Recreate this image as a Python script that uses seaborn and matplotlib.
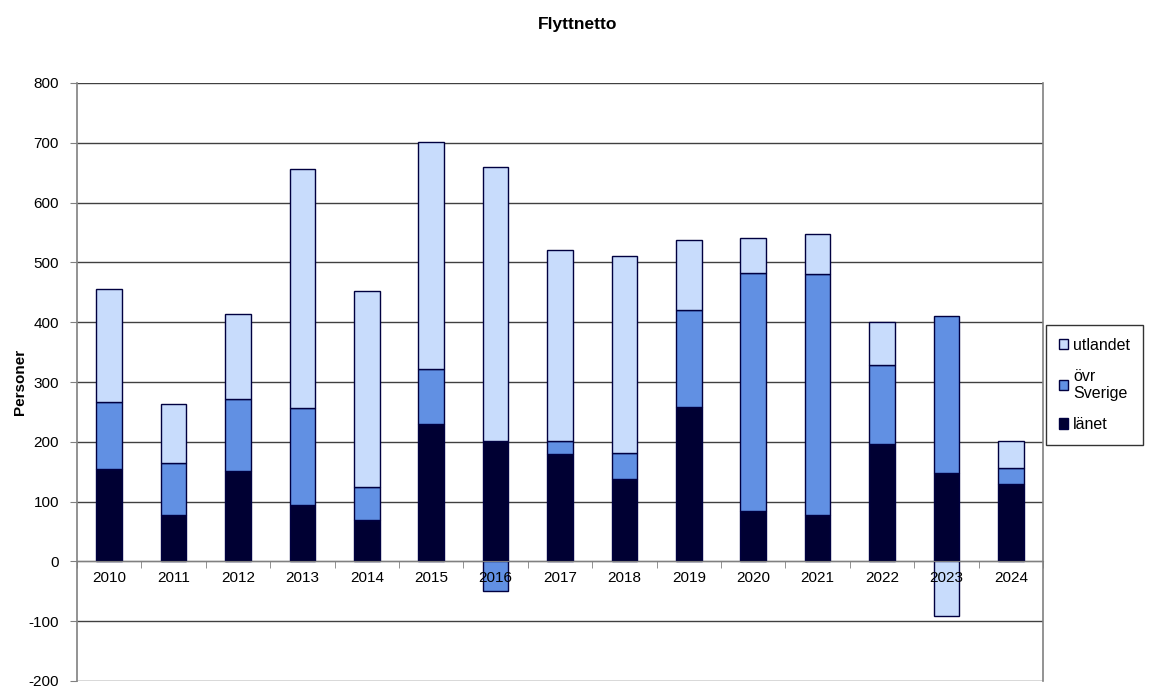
import numpy as np
import pandas as pd
import seaborn as sns
import matplotlib.pyplot as plt
from matplotlib.ticker import FixedLocator, MultipleLocator

years = [str(y) for y in range(2010, 2025)]
lanet = [155, 77, 151, 95, 70, 229, 202, 179, 137, 259, 85, 77, 197, 147, 130]
ovr_sverige = [111, 87, 120, 162, 54, 92, -50, 23, 45, 162, 397, 403, 131, 263, 27]
utlandet = [190, 100, 142, 400, 329, 381, 457, 318, 328, 116, 58, 67, 73, -92, 45]

series = [("länet", lanet, "#000033"),
          ("övr\nSverige", ovr_sverige, "#6190E3"),
          ("utlandet", utlandet, "#C8DCFC")]

sns.set_style("white")
plt.rcParams["font.family"] = ["Liberation Sans", "DejaVu Sans"]
plt.rcParams["axes.unicode_minus"] = False
for k in ["text.color", "axes.labelcolor", "xtick.labelcolor", "ytick.labelcolor"]:
    plt.rcParams[k] = "black"

fig = plt.figure(figsize=(11.51, 6.86), dpi=100)
ax = fig.add_axes([77 / 1151, 5 / 686, (1043 - 77) / 1151, (681 - 83) / 686])

# horizontal gridlines under the bars
ax.hlines(np.arange(-200, 801, 100), -0.5, len(years) - 0.5,
          color="#404040", linewidth=1, zorder=0.5)

pos_base = np.zeros(len(years))
neg_base = np.zeros(len(years))
handles = []
for name, vals, col in series:
    v = np.array(vals, dtype=float)
    bottom = np.where(v >= 0, pos_base, neg_base)
    df = pd.DataFrame({"year": years, "value": v})
    sns.barplot(data=df, x="year", y="value", order=years, color=col,
                saturation=1, width=0.4, errorbar=None, bottom=bottom,
                edgecolor="#000040", linewidth=1, ax=ax, zorder=2)
    pos_base = pos_base + np.where(v >= 0, v, 0)
    neg_base = neg_base + np.where(v < 0, v, 0)
    handles.append(plt.Rectangle((0, 0), 1, 1, facecolor=col,
                                 edgecolor="#000040", linewidth=1, label=name))

ax.set_ylim(-200, 800)
ax.set_xlim(-0.5, len(years) - 0.5)
ax.yaxis.set_major_locator(MultipleLocator(100))
ax.grid(False)
ax.set_axisbelow(False)

ax.spines["top"].set_visible(False)
for s in ["left", "right"]:
    ax.spines[s].set_color("#808080")
    ax.spines[s].set_linewidth(1.2)

# category axis drawn at zero
ax.spines["bottom"].set_position(("data", 0))
ax.spines["bottom"].set_color("#808080")
ax.xaxis.set_minor_locator(FixedLocator(np.arange(-0.5, len(years), 1.0)))
ax.tick_params(axis="x", which="major", length=0, pad=7, labelsize=11)
ax.tick_params(axis="x", which="minor", length=5, direction="out",
               color="#808080", bottom=True)
ax.tick_params(axis="y", length=5, direction="out", color="#808080",
               labelsize=11, left=True, pad=8)

ax.set_xlabel("")
ax.set_ylabel("Personer", fontsize=11, fontweight="bold")
ax.yaxis.set_label_coords(-50 / 966, 0.5)
fig.suptitle("Flyttnetto", fontsize=12.5, fontweight="bold", y=0.975, x=0.502)

leg = fig.legend(handles=handles[::-1], loc="upper left",
                 bbox_to_anchor=(1046 / 1151, 1 - 325 / 686),
                 borderaxespad=0, frameon=True, fancybox=False, fontsize=11.5,
                 handlelength=0.6, handleheight=0.6, handletextpad=0.3,
                 labelspacing=1.0, borderpad=0.8, edgecolor="black")
leg.get_frame().set_linewidth(1)

fig.savefig("out.png", dpi=100)
